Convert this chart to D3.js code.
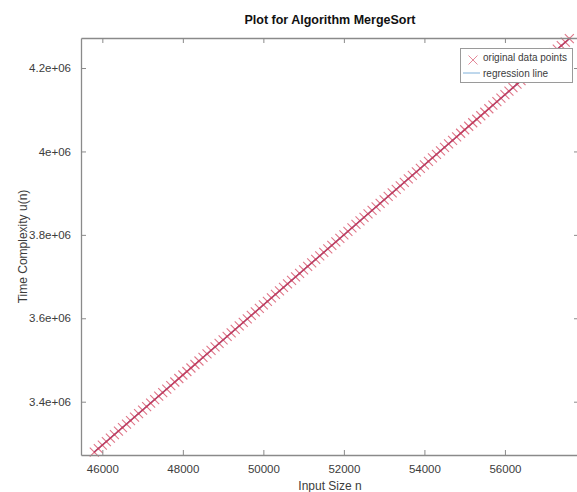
<!DOCTYPE html>
<html>
<head>
<meta charset="utf-8">
<script src="https://cdn.jsdelivr.net/npm/d3@7"></script>
<style>
    body { margin: 0; background: #fff; }
    text { font-family: "Liberation Sans", Arial, sans-serif; }
</style>
</head>
<body>
<div id="chart"></div>
<script>
// input sizes n of the measured points
const inputSizes = [
    45800, 45900, 46000, 46100, 46200, 46300, 46400, 46500, 46600, 46700,
    46800, 46900, 47000, 47100, 47200, 47300, 47400, 47500, 47600, 47700,
    47800, 47900, 48000, 48100, 48200, 48300, 48400, 48500, 48600, 48700,
    48800, 48900, 49000, 49100, 49200, 49300, 49400, 49500, 49600, 49700,
    49800, 49900, 50000, 50100, 50200, 50300, 50400, 50500, 50600, 50700,
    50800, 50900, 51000, 51100, 51200, 51300, 51400, 51500, 51600, 51700,
    51800, 51900, 52000, 52100, 52200, 52300, 52400, 52500, 52600, 52700,
    52800, 52900, 53000, 53100, 53200, 53300, 53400, 53500, 53600, 53700,
    53800, 53900, 54000, 54100, 54200, 54300, 54400, 54500, 54600, 54700,
    54800, 54900, 55000, 55100, 55200, 55300, 55400, 55500, 55600, 55700,
    55800, 55900, 56000, 56100, 56200, 56300, 56400, 56500, 56600, 56700,
    56800, 56900, 57000, 57100, 57200, 57300, 57400, 57500, 57600
];

// measured time complexity u(n)
const timeValues = [
    3279200, 3287600, 3296000, 3304400, 3312800, 3321200, 3329600, 3338000, 3346400, 3354800,
    3363200, 3371600, 3380000, 3388400, 3396800, 3405200, 3413600, 3422000, 3430400, 3438800,
    3447200, 3455600, 3464000, 3472400, 3480800, 3489200, 3497600, 3506000, 3514400, 3522800,
    3531200, 3539600, 3548000, 3556400, 3564800, 3573200, 3581600, 3590000, 3598400, 3606800,
    3615200, 3623600, 3632000, 3640400, 3648800, 3657200, 3665600, 3674000, 3682400, 3690800,
    3699200, 3707600, 3716000, 3724400, 3732800, 3741200, 3749600, 3758000, 3766400, 3774800,
    3783200, 3791600, 3800000, 3808400, 3816800, 3825200, 3833600, 3842000, 3850400, 3858800,
    3867200, 3875600, 3884000, 3892400, 3900800, 3909200, 3917600, 3926000, 3934400, 3942800,
    3951200, 3959600, 3968000, 3976400, 3984800, 3993200, 4001600, 4010000, 4018400, 4026800,
    4035200, 4043600, 4052000, 4060400, 4068800, 4077200, 4085600, 4094000, 4102400, 4110800,
    4119200, 4127600, 4136000, 4144400, 4152800, 4161200, 4169600, 4178000, 4186400, 4194800,
    4203200, 4211600, 4220000, 4228400, 4236800, 4245200, 4253600, 4262000, 4270400
];

// axis ticks and their labels
const xTicks = [46000, 48000, 50000, 52000, 54000, 56000];
const xTickLabels = ["46000", "48000", "50000", "52000", "54000", "56000"];
const yTicks = [3400000, 3600000, 3800000, 4000000, 4200000];
const yTickLabels = ["3.4e+06", "3.6e+06", "3.8e+06", "4e+06", "4.2e+06"];

const legendLabels = ["original data points", "regression line"];

// set the dimensions of the figure
const W = 577, H = 492;
const plot = { left: 81, top: 38, right: 579, bottom: 455 };

const svg = d3.select("#chart")
    .append("svg")
    .attr("width", W)
    .attr("height", H);

const xScale = d3.scaleLinear([45470, 57840], [plot.left, plot.right]);
const yScale = d3.scaleLinear([3272200, 4272000], [plot.bottom, plot.top]);

const axisColor = "#8a8a8a";
const textColor = "#3c3c3c";
const markerColor = "#d23a55";

// clip for the regression line
svg.append("defs")
    .append("clipPath")
    .attr("id", "plot-clip")
    .append("rect")
    .attr("x", plot.left)
    .attr("y", plot.top)
    .attr("width", plot.right - plot.left)
    .attr("height", plot.bottom - plot.top);

// least squares fit of the data
const meanX = d3.mean(inputSizes), meanY = d3.mean(timeValues);
const slope = d3.sum(inputSizes, (d, i) => (d - meanX) * (timeValues[i] - meanY))
    / d3.sum(inputSizes, d => (d - meanX) ** 2);
const fit = n => meanY + slope * (n - meanX);
const fitEnds = d3.extent(inputSizes);

// regression line (mostly covered by the crosses)
svg.append("path")
    .datum(fitEnds)
    .attr("clip-path", "url(#plot-clip)")
    .attr("fill", "none")
    .attr("stroke", "#5a5aa0")
    .attr("stroke-width", 1.4)
    .attr("d", d3.line()
        .x(d => xScale(d))
        .y(d => yScale(fit(d)))
    );

// data points as crosses
const cross = "M-4.5,-4.5L4.5,4.5M-4.5,4.5L4.5,-4.5";
svg.append("g")
    .selectAll("path")
    .data(inputSizes)
    .join("path")
    .attr("transform", (d, i) => `translate(${xScale(d)},${yScale(timeValues[i])})`)
    .attr("d", cross)
    .attr("fill", "none")
    .attr("stroke", markerColor)
    .attr("stroke-opacity", 0.7)
    .attr("stroke-width", 1.1);

// axes box: bottom/left with labels, top/right with inward ticks only
const xAxisGen = d3.axisBottom(xScale)
    .tickValues(xTicks)
    .tickFormat((d, i) => xTickLabels[i])
    .tickSizeInner(-5)
    .tickSizeOuter(0)
    .tickPadding(10);
const yAxisGen = d3.axisLeft(yScale)
    .tickValues(yTicks)
    .tickFormat((d, i) => yTickLabels[i])
    .tickSizeInner(-5)
    .tickSizeOuter(0)
    .tickPadding(10);

const styleAxis = g => {
    g.select(".domain").attr("stroke", axisColor).attr("stroke-width", 1.3);
    g.selectAll(".tick line").attr("stroke", axisColor);
    g.selectAll(".tick text")
        .attr("fill", textColor)
        .attr("font-size", 11.5)
        .attr("font-family", "Liberation Sans, Arial, sans-serif");
};

svg.append("g")
    .attr("transform", `translate(0,${plot.bottom})`)
    .call(xAxisGen)
    .call(styleAxis);

svg.append("g")
    .attr("transform", `translate(${plot.left},0)`)
    .call(yAxisGen)
    .call(styleAxis);

svg.append("g")
    .attr("transform", `translate(0,${plot.top})`)
    .call(d3.axisTop(xScale).tickValues(xTicks).tickFormat("").tickSizeInner(-5).tickSizeOuter(0))
    .call(styleAxis);

svg.append("g")
    .attr("transform", `translate(${plot.right},0)`)
    .call(d3.axisRight(yScale).tickValues(yTicks).tickFormat("").tickSizeInner(-5).tickSizeOuter(0))
    .call(styleAxis);

// title and axis labels
svg.append("text")
    .attr("x", (plot.left + plot.right) / 2)
    .attr("y", 24)
    .attr("text-anchor", "middle")
    .attr("font-size", 12.5)
    .attr("font-weight", "bold")
    .attr("fill", "#111")
    .text("Plot for Algorithm MergeSort");

svg.append("text")
    .attr("x", (plot.left + plot.right) / 2)
    .attr("y", 490)
    .attr("text-anchor", "middle")
    .attr("font-size", 12)
    .attr("fill", textColor)
    .text("Input Size n");

svg.append("text")
    .attr("transform", `translate(27,${(plot.top + plot.bottom) / 2}) rotate(-90)`)
    .attr("text-anchor", "middle")
    .attr("font-size", 12)
    .attr("fill", textColor)
    .text("Time Complexity u(n)");

// legend
const legend = svg.append("g")
    .attr("transform", "translate(460,48)");

legend.append("rect")
    .attr("x", 0.5)
    .attr("y", 0.5)
    .attr("width", 112)
    .attr("height", 34)
    .attr("fill", "#fff")
    .attr("stroke", "#9a9a9a")
    .attr("stroke-width", 1);

legend.append("path")
    .attr("transform", "translate(13,12)")
    .attr("d", cross)
    .attr("fill", "none")
    .attr("stroke", markerColor)
    .attr("stroke-opacity", 0.6)
    .attr("stroke-width", 1);

legend.append("line")
    .attr("x1", 3)
    .attr("x2", 20)
    .attr("y1", 25)
    .attr("y2", 25)
    .attr("stroke", "#7fb0da")
    .attr("stroke-width", 1);

legend.selectAll("text.label")
    .data(legendLabels)
    .join("text")
    .classed("label", true)
    .attr("x", 23)
    .attr("y", (d, i) => 12.5 + i * 16)
    .attr("font-size", 10)
    .attr("fill", textColor)
    .text(d => d);
</script>
</body>
</html>
